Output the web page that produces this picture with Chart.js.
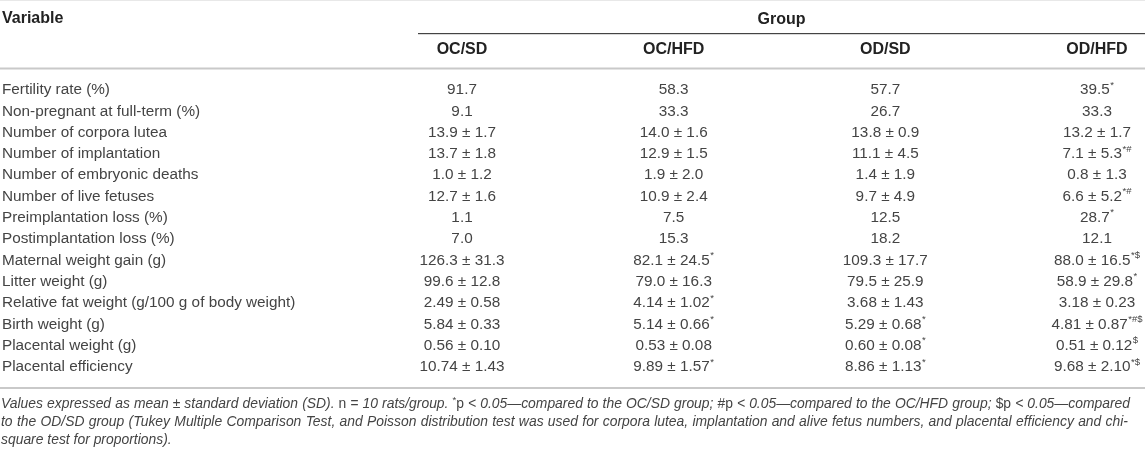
<!DOCTYPE html>
<html>
<head>
<meta charset="utf-8">
<script src="https://cdn.jsdelivr.net/npm/chart.js@4"></script>
<style>
html,body{margin:0;padding:0;background:#fff;}
#wrap{width:1145px;height:452px;position:relative;}
</style>
</head>
<body>
<div id="wrap"><canvas id="c"></canvas></div>
<script>
// ---- data ----
const headerVariable = 'Variable';
const headerGroup = 'Group';
const groups = ['OC/SD', 'OC/HFD', 'OD/SD', 'OD/HFD'];
const variables = [
  'Fertility rate (%)',
  'Non-pregnant at full-term (%)',
  'Number of corpora lutea',
  'Number of implantation',
  'Number of embryonic deaths',
  'Number of live fetuses',
  'Preimplantation loss (%)',
  'Postimplantation loss (%)',
  'Maternal weight gain (g)',
  'Litter weight (g)',
  'Relative fat weight (g/100 g of body weight)',
  'Birth weight (g)',
  'Placental weight (g)',
  'Placental efficiency'
];
// "^" separates the value from its significance superscript
const ocSd = ['91.7','9.1','13.9 ± 1.7','13.7 ± 1.8','1.0 ± 1.2','12.7 ± 1.6','1.1','7.0','126.3 ± 31.3','99.6 ± 12.8','2.49 ± 0.58','5.84 ± 0.33','0.56 ± 0.10','10.74 ± 1.43'];
const ocHfd = ['58.3','33.3','14.0 ± 1.6','12.9 ± 1.5','1.9 ± 2.0','10.9 ± 2.4','7.5','15.3','82.1 ± 24.5^*','79.0 ± 16.3','4.14 ± 1.02^*','5.14 ± 0.66^*','0.53 ± 0.08','9.89 ± 1.57^*'];
const odSd = ['57.7','26.7','13.8 ± 0.9','11.1 ± 4.5','1.4 ± 1.9','9.7 ± 4.9','12.5','18.2','109.3 ± 17.7','79.5 ± 25.9','3.68 ± 1.43','5.29 ± 0.68^*','0.60 ± 0.08^*','8.86 ± 1.13^*'];
const odHfd = ['39.5^*','33.3','13.2 ± 1.7','7.1 ± 5.3^*#','0.8 ± 1.3','6.6 ± 5.2^*#','28.7^*','12.1','88.0 ± 16.5^*$','58.9 ± 29.8^*','3.18 ± 0.23','4.81 ± 0.87^*#$','0.51 ± 0.12^$','9.68 ± 2.10^*$'];
const columns = [ocSd, ocHfd, odSd, odHfd];
// footnote: [text, style] with i = italic, n = upright, s = superscript
const noteLine1 = [
  ['Values expressed as mean ± standard deviation (SD). ', 'i'], ['n', 'n'], [' = 10 rats/group. ', 'i'],
  ['*', 's'], ['p', 'n'], [' < 0.05—compared to the OC/SD group; ', 'i'],
  ['#p', 'n'], [' < 0.05—compared to the OC/HFD group; ', 'i'],
  ['$p', 'n'], [' < 0.05—compared', 'i']
];
const noteLine2 = [['to the OD/SD group (Tukey Multiple Comparison Test, and Poisson distribution test was used for corpora lutea, implantation and alive fetus numbers, and placental efficiency and chi-', 'i']];
const noteLine3 = [['square test for proportions).', 'i']];

// ---- drawing ----
const FONT = '"Liberation Sans", Arial, Helvetica, sans-serif';
const DATA_PX = 15.3, HEAD_PX = 16, SUP_PX = 9.5;
let NOTE_PX = 13;

function cellWidth(ctx, str) {
  const [base, sup] = str.split('^');
  ctx.font = DATA_PX + 'px ' + FONT;
  let w = ctx.measureText(base).width;
  if (sup) { ctx.font = SUP_PX + 'px ' + FONT; w += ctx.measureText(sup).width + 0.5; }
  return w;
}
function drawCell(ctx, str, cx, cy) {
  const [base, sup] = str.split('^');
  const w = cellWidth(ctx, str);
  let x = cx - w / 2;
  ctx.textAlign = 'left';
  ctx.textBaseline = 'middle';
  ctx.font = DATA_PX + 'px ' + FONT;
  ctx.fillText(base, x, cy);
  if (sup) {
    x += ctx.measureText(base).width + 0.5;
    ctx.font = SUP_PX + 'px ' + FONT;
    ctx.fillText(sup, x, cy - 5);
  }
}
function styleFont(st) {
  if (st === 'i') return 'italic ' + NOTE_PX + 'px ' + FONT;
  if (st === 's') return (NOTE_PX * 0.7) + 'px ' + FONT;
  return NOTE_PX + 'px ' + FONT;
}
function splitWords(pieces) {
  const words = [[]];
  pieces.forEach(([txt, st]) => {
    txt.split(' ').forEach((p, k) => {
      if (k > 0) words.push([]);
      if (p) words[words.length - 1].push({ t: p, st });
    });
  });
  return words.filter(w => w.length);
}
function naturalWidth(ctx, pieces) {
  const ws = splitWords(pieces);
  let total = 0;
  ws.forEach(w => w.forEach(r => { ctx.font = styleFont(r.st); total += ctx.measureText(r.t).width; }));
  ctx.font = styleFont('i');
  return total + ctx.measureText(' ').width * (ws.length - 1);
}
function drawNoteLine(ctx, pieces, x0, y, targetW, justify) {
  const ws = splitWords(pieces);
  const widths = ws.map(w => w.reduce((s, r) => { ctx.font = styleFont(r.st); return s + ctx.measureText(r.t).width; }, 0));
  ctx.font = styleFont('i');
  const space = ctx.measureText(' ').width;
  const total = widths.reduce((a, b) => a + b, 0);
  const gap = justify ? (targetW - total) / (ws.length - 1) : space;
  let x = x0;
  ctx.textAlign = 'left';
  ctx.textBaseline = 'middle';
  ws.forEach(w => {
    w.forEach(r => {
      ctx.font = styleFont(r.st);
      ctx.fillText(r.t, x, r.st === 's' ? y - 4 : y);
      x += ctx.measureText(r.t).width;
    });
    x += gap;
  });
}

const tablePlugin = {
  id: 'tablePlugin',
  afterDraw(chart) {
    const ctx = chart.ctx;
    const xs = chart.scales.x, ys = chart.scales.y;
    const W = chart.width;
    ctx.save();
    // rules
    ctx.fillStyle = '#e8e8e8'; ctx.fillRect(0, 0, W, 1);
    const groupLineStart = xs.getPixelForValue(0) - 44;
    ctx.fillStyle = '#444'; ctx.fillRect(groupLineStart, 33, W - groupLineStart, 1.2);
    ctx.fillStyle = '#c9c9c9'; ctx.fillRect(0, 67.5, W, 2);
    const bottomRule = ys.getPixelForValue(variables.length - 1) + 20;
    ctx.fillRect(0, bottomRule, W, 2);
    // headers
    ctx.fillStyle = '#222';
    ctx.font = 'bold ' + HEAD_PX + 'px ' + FONT;
    ctx.textBaseline = 'middle';
    ctx.textAlign = 'left';
    ctx.fillText(headerVariable, 2, 19);
    ctx.textAlign = 'center';
    ctx.fillText(headerGroup, (groupLineStart + W) / 2, 20);
    groups.forEach((g, j) => ctx.fillText(g, xs.getPixelForValue(j), 50));
    // row labels
    ctx.fillStyle = '#444';
    ctx.font = DATA_PX + 'px ' + FONT;
    ctx.textAlign = 'left';
    variables.forEach((v, i) => ctx.fillText(v, 2, ys.getPixelForValue(i)));
    // cells
    columns.forEach((col, j) => {
      col.forEach((cell, i) => drawCell(ctx, cell, xs.getPixelForValue(j), ys.getPixelForValue(i)));
    });
    // footnote: pick the size whose natural width best fills the justified lines
    NOTE_PX = 13;
    for (let s = 15; s >= 11; s -= 0.1) {
      NOTE_PX = s;
      if (naturalWidth(ctx, noteLine1) <= 1129 && naturalWidth(ctx, noteLine2) <= 1127) break;
    }
    ctx.fillStyle = '#444';
    drawNoteLine(ctx, noteLine1, 1, bottomRule + 17, 1129, true);
    drawNoteLine(ctx, noteLine2, 1, bottomRule + 35, 1127, true);
    drawNoteLine(ctx, noteLine3, 1, bottomRule + 53, 0, false);
    ctx.restore();
  }
};

new Chart(document.getElementById('c'), {
  type: 'scatter',
  data: { datasets: [] },
  options: {
    responsive: true,
    maintainAspectRatio: false,
    animation: false,
    layout: { padding: { left: 462, right: 48, top: 90, bottom: 85 } },
    plugins: { legend: { display: false }, tooltip: { enabled: false } },
    scales: {
      x: { type: 'category', labels: groups, offset: false, display: false },
      y: { type: 'category', labels: variables, offset: false, display: false }
    }
  },
  plugins: [tablePlugin]
});
</script>
</body>
</html>
